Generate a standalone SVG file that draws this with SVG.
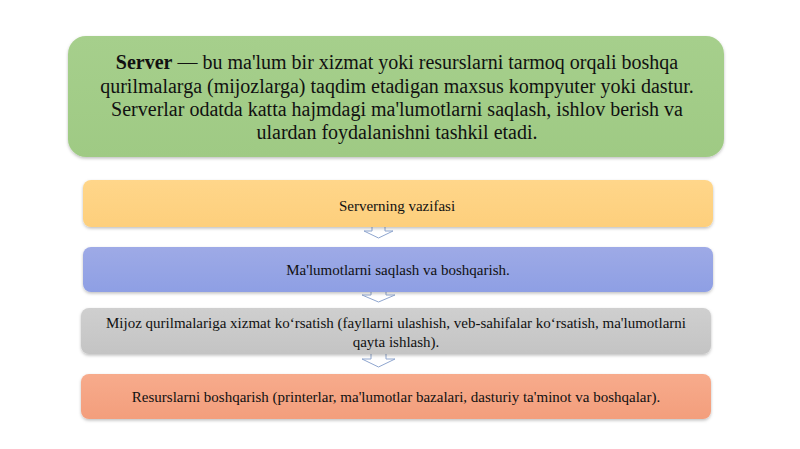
<svg xmlns="http://www.w3.org/2000/svg" width="800" height="449" viewBox="0 0 800 449">
<defs>
<filter id="sh" x="-5%" y="-20%" width="110%" height="150%">
<feDropShadow dx="0" dy="1.5" stdDeviation="1.5" flood-color="#000" flood-opacity="0.25"/>
</filter>
<linearGradient id="gGreen" x1="0" y1="0" x2="0" y2="1"><stop offset="0" stop-color="#a6cf8c"/><stop offset="1" stop-color="#9fca84"/></linearGradient>
<linearGradient id="gOrange" x1="0" y1="0" x2="0" y2="1"><stop offset="0" stop-color="#ffd68a"/><stop offset="1" stop-color="#fdcf7c"/></linearGradient>
<linearGradient id="gBlue" x1="0" y1="0" x2="0" y2="1"><stop offset="0" stop-color="#9eaae6"/><stop offset="1" stop-color="#8e9fe4"/></linearGradient>
<linearGradient id="gGray" x1="0" y1="0" x2="0" y2="1"><stop offset="0" stop-color="#cfcfcf"/><stop offset="1" stop-color="#c4c4c4"/></linearGradient>
<linearGradient id="gSalmon" x1="0" y1="0" x2="0" y2="1"><stop offset="0" stop-color="#f7ab8c"/><stop offset="1" stop-color="#f39e7c"/></linearGradient>
</defs>
<style>
text{font-family:"Liberation Serif","Times New Roman",serif;fill:#111;text-anchor:middle}
.big{font-size:20px}
.sm{font-size:15px}
.arr{fill:#ffffff;stroke:#8fa6cf;stroke-width:1}
</style>
<rect width="800" height="449" fill="#ffffff"/>
<g id="connectors">
<path class="arr" d="M372,225 H385 V231 H393 L378.5,238 L364,231 H372 Z"/>
<path class="arr" d="M371,288 H386 V295 H395 L378.5,302 L362,295 H371 Z"/>
<path class="arr" d="M371,352 H386 V359 H395 L378.5,367 L362,359 H371 Z"/>
</g>
<g id="definition">
<rect x="68" y="36" width="656" height="121" rx="18" fill="url(#gGreen)" filter="url(#sh)"/>
<text class="big" x="397" y="69"><tspan font-weight="bold">Server</tspan> — bu ma'lum bir xizmat yoki resurslarni tarmoq orqali boshqa</text>
<text class="big" x="397" y="93">qurilmalarga (mijozlarga) taqdim etadigan maxsus kompyuter yoki dastur.</text>
<text class="big" x="397" y="116">Serverlar odatda katta hajmdagi ma'lumotlarni saqlash, ishlov berish va</text>
<text class="big" x="397" y="139">ulardan foydalanishni tashkil etadi.</text>
</g>
<g id="title">
<rect x="83" y="180" width="630" height="47" rx="8" fill="url(#gOrange)" filter="url(#sh)"/>
<text class="sm" x="397" y="211">Serverning vazifasi</text>
</g>
<g id="step1">
<rect x="83" y="247" width="630" height="45" rx="8" fill="url(#gBlue)" filter="url(#sh)"/>
<text class="sm" x="398" y="275">Ma'lumotlarni saqlash va boshqarish.</text>
</g>
<g id="step2">
<rect x="81" y="308" width="630" height="46" rx="8" fill="url(#gGray)" filter="url(#sh)"/>
<text class="sm" x="396" y="328">Mijoz qurilmalariga xizmat ko‘rsatish (fayllarni ulashish, veb-sahifalar ko‘rsatish, ma'lumotlarni</text>
<text class="sm" x="396" y="347">qayta ishlash).</text>
</g>
<g id="step3">
<rect x="81" y="374" width="630" height="45" rx="8" fill="url(#gSalmon)" filter="url(#sh)"/>
<text class="sm" x="396" y="402">Resurslarni boshqarish (printerlar, ma'lumotlar bazalari, dasturiy ta'minot va boshqalar).</text>
</g>
</svg>
